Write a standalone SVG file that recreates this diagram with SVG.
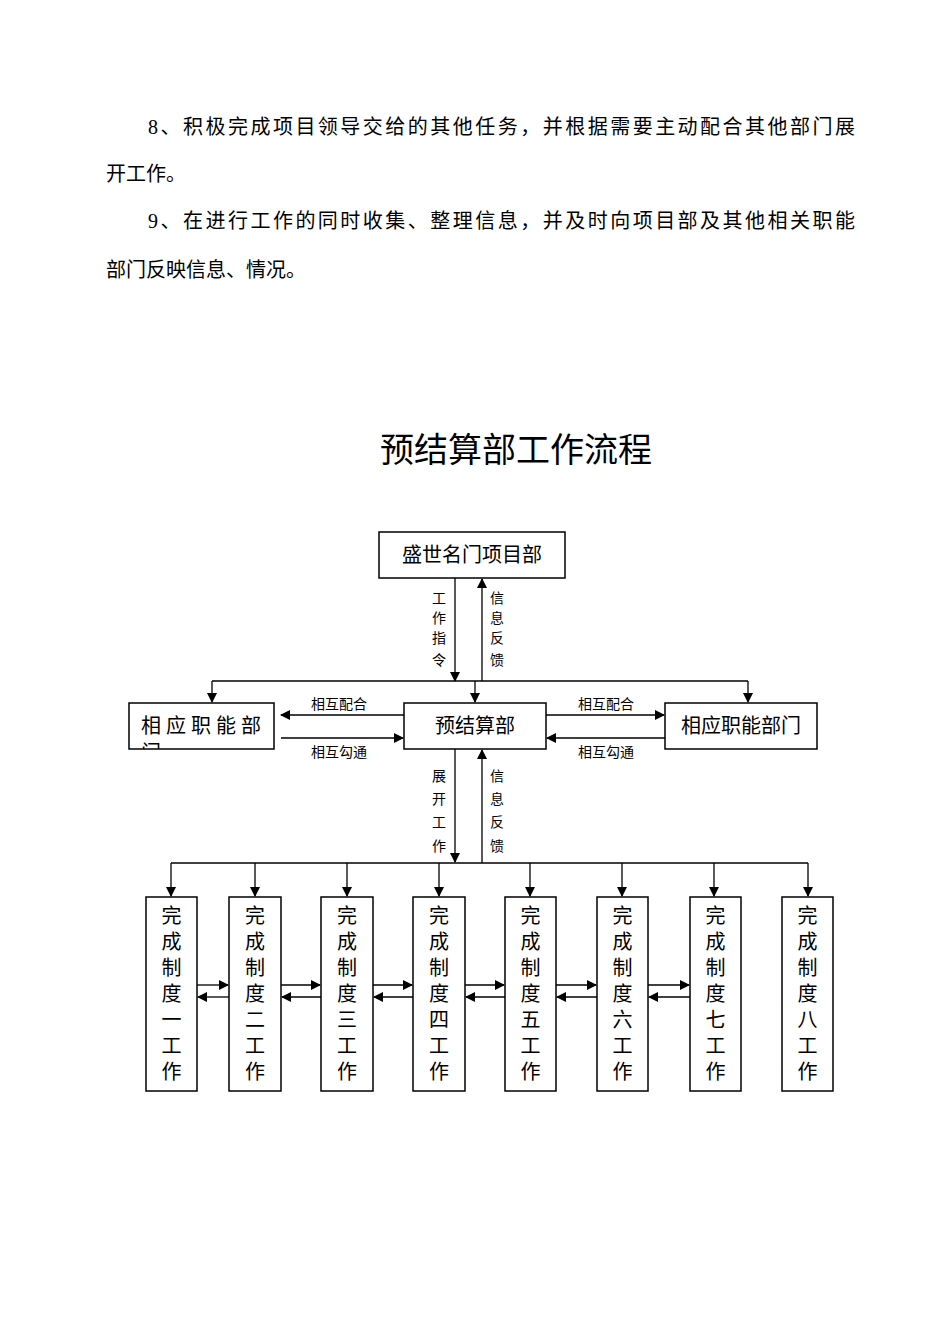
<svg xmlns="http://www.w3.org/2000/svg" width="950" height="1344" viewBox="0 0 950 1344">
<style>
text{font-family:"Liberation Serif","Noto Sans CJK SC",serif;fill:#000}
.p{font-size:20px}
.b{fill:#fff;stroke:#000;stroke-width:1.5}
.l{stroke:#000;stroke-width:1.3;fill:none}
.a{marker-end:url(#ah)}
.s{font-size:14px;text-anchor:middle}
.n{font-size:20px;text-anchor:middle}
</style>
<defs>
<marker id="ah" markerWidth="10" markerHeight="10" refX="9" refY="5" orient="auto" markerUnits="userSpaceOnUse"><path d="M0,0 L10,5 L0,10 z" fill="#000"/></marker>
<clipPath id="cl"><rect x="129" y="703" width="145" height="46"/></clipPath>
</defs>
<rect width="950" height="1344" fill="#fff"/>
<text class="p" x="148" y="134" textLength="707">8、积极完成项目领导交给的其他任务，并根据需要主动配合其他部门展</text>
<text class="p" x="106" y="181">开工作。</text>
<text class="p" x="148" y="228" textLength="707">9、在进行工作的同时收集、整理信息，并及时向项目部及其他相关职能</text>
<text class="p" x="106" y="277">部门反映信息、情况。</text>
<text x="516" y="462" font-size="34" text-anchor="middle">预结算部工作流程</text>

<g id="connectors">
<path class="l a" d="M455,578 V681"/>
<path class="l a" d="M482,681 V579"/>
<path class="l" d="M212,681 H748"/>
<path class="l a" d="M212,681 V702"/>
<path class="l a" d="M475,681 V702"/>
<path class="l a" d="M748,681 V702"/>
<path class="l a" d="M404,715 H281"/>
<path class="l a" d="M546,715 H664"/>
<path class="l a" d="M281,738 H403"/>
<path class="l a" d="M665,738 H547"/>
<path class="l a" d="M455,749 V862"/>
<path class="l a" d="M482,863 V750"/>
<path class="l" d="M171,863 H808"/>
<path class="l a" d="M171,863 V896"/>
<path class="l a" d="M255,863 V896"/>
<path class="l a" d="M347,863 V896"/>
<path class="l a" d="M439,863 V896"/>
<path class="l a" d="M530,863 V896"/>
<path class="l a" d="M622,863 V896"/>
<path class="l a" d="M714,863 V896"/>
<path class="l a" d="M808,863 V896"/>
<path class="l a" d="M197,985 H228"/><path class="l a" d="M229,997 H198"/>
<path class="l a" d="M281,985 H320"/><path class="l a" d="M321,997 H282"/>
<path class="l a" d="M373,985 H412"/><path class="l a" d="M413,997 H374"/>
<path class="l a" d="M465,985 H504"/><path class="l a" d="M505,997 H466"/>
<path class="l a" d="M556,985 H596"/><path class="l a" d="M597,997 H557"/>
<path class="l a" d="M648,985 H689"/><path class="l a" d="M690,997 H649"/>
<g class="s">
<text x="439" y="603">工</text><text x="439" y="623">作</text><text x="439" y="643">指</text><text x="439" y="665">令</text>
<text x="497" y="603">信</text><text x="497" y="623">息</text><text x="497" y="643">反</text><text x="497" y="665">馈</text>
<text x="439" y="781">展</text><text x="439" y="804">开</text><text x="439" y="827">工</text><text x="439" y="851">作</text>
<text x="497" y="781">信</text><text x="497" y="804">息</text><text x="497" y="827">反</text><text x="497" y="851">馈</text>
<text x="339" y="709">相互配合</text><text x="606" y="709">相互配合</text>
<text x="339" y="757">相互勾通</text><text x="606" y="757">相互勾通</text>
</g>
</g>

<g id="top"><rect class="b" x="379" y="532" width="186" height="46"/><text class="n" x="472" y="562">盛世名门项目部</text></g>
<g id="left"><rect class="b" x="129" y="703" width="145" height="46"/><g clip-path="url(#cl)"><text font-size="20" x="141" y="733" textLength="120">相应职能部</text><text font-size="20" x="141" y="760">门</text></g></g>
<g id="center"><rect class="b" x="404" y="703" width="142" height="46"/><text class="n" x="475" y="733">预结算部</text></g>
<g id="right"><rect class="b" x="665" y="703" width="152" height="46"/><text class="n" x="741" y="733">相应职能部门</text></g>

<g id="w1"><rect class="b" x="146" y="897" width="51" height="194"/><text class="n" x="171.5" y="923">完</text><text class="n" x="171.5" y="949">成</text><text class="n" x="171.5" y="975">制</text><text class="n" x="171.5" y="1001">度</text><text class="n" x="171.5" y="1027">一</text><text class="n" x="171.5" y="1053">工</text><text class="n" x="171.5" y="1079">作</text></g>
<g id="w2"><rect class="b" x="229" y="897" width="52" height="194"/><text class="n" x="255" y="923">完</text><text class="n" x="255" y="949">成</text><text class="n" x="255" y="975">制</text><text class="n" x="255" y="1001">度</text><text class="n" x="255" y="1027">二</text><text class="n" x="255" y="1053">工</text><text class="n" x="255" y="1079">作</text></g>
<g id="w3"><rect class="b" x="321" y="897" width="52" height="194"/><text class="n" x="347" y="923">完</text><text class="n" x="347" y="949">成</text><text class="n" x="347" y="975">制</text><text class="n" x="347" y="1001">度</text><text class="n" x="347" y="1027">三</text><text class="n" x="347" y="1053">工</text><text class="n" x="347" y="1079">作</text></g>
<g id="w4"><rect class="b" x="413" y="897" width="52" height="194"/><text class="n" x="439" y="923">完</text><text class="n" x="439" y="949">成</text><text class="n" x="439" y="975">制</text><text class="n" x="439" y="1001">度</text><text class="n" x="439" y="1027">四</text><text class="n" x="439" y="1053">工</text><text class="n" x="439" y="1079">作</text></g>
<g id="w5"><rect class="b" x="505" y="897" width="51" height="194"/><text class="n" x="530.5" y="923">完</text><text class="n" x="530.5" y="949">成</text><text class="n" x="530.5" y="975">制</text><text class="n" x="530.5" y="1001">度</text><text class="n" x="530.5" y="1027">五</text><text class="n" x="530.5" y="1053">工</text><text class="n" x="530.5" y="1079">作</text></g>
<g id="w6"><rect class="b" x="597" y="897" width="51" height="194"/><text class="n" x="622.5" y="923">完</text><text class="n" x="622.5" y="949">成</text><text class="n" x="622.5" y="975">制</text><text class="n" x="622.5" y="1001">度</text><text class="n" x="622.5" y="1027">六</text><text class="n" x="622.5" y="1053">工</text><text class="n" x="622.5" y="1079">作</text></g>
<g id="w7"><rect class="b" x="690" y="897" width="51" height="194"/><text class="n" x="715.5" y="923">完</text><text class="n" x="715.5" y="949">成</text><text class="n" x="715.5" y="975">制</text><text class="n" x="715.5" y="1001">度</text><text class="n" x="715.5" y="1027">七</text><text class="n" x="715.5" y="1053">工</text><text class="n" x="715.5" y="1079">作</text></g>
<g id="w8"><rect class="b" x="782" y="897" width="51" height="194"/><text class="n" x="807.5" y="923">完</text><text class="n" x="807.5" y="949">成</text><text class="n" x="807.5" y="975">制</text><text class="n" x="807.5" y="1001">度</text><text class="n" x="807.5" y="1027">八</text><text class="n" x="807.5" y="1053">工</text><text class="n" x="807.5" y="1079">作</text></g>
</svg>
